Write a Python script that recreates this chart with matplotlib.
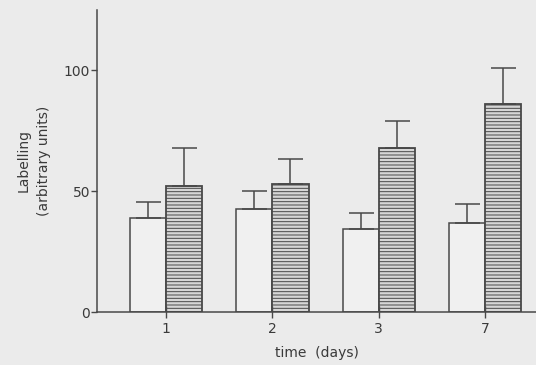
import matplotlib
matplotlib.use("Agg")
import matplotlib.pyplot as plt
import numpy as np

days = ["1", "2", "3", "7"]
control = [39, 42.5, 34.5, 37]
control_err = [6.5, 7.5, 6.5, 7.5]
treated = [52, 53, 68, 86]
treated_err = [16, 10.5, 11, 15]

bg = "#ebebeb"
fig = plt.figure(figsize=(5.36, 3.65), dpi=100, facecolor=bg)
ax = fig.add_axes([0.181, 0.145, 0.819, 0.828], facecolor=bg)

x = np.arange(len(days))
w = 0.34
lc = "#484848"
tc = "#3a3a3a"
ax.bar(x - w / 2, control, w, color="#f0f0f0", edgecolor=lc, linewidth=1.1,
       yerr=[np.zeros(4), control_err], capsize=9,
       error_kw=dict(ecolor=lc, elinewidth=1.1, capthick=1.1))
plt.rcParams['hatch.color'] = "#a8a8a8"
plt.rcParams['hatch.linewidth'] = 0.7
ax.bar(x + w / 2, treated, w, color="#d6d6d6", edgecolor=lc, linewidth=1.3,
       hatch="-----", yerr=[np.zeros(4), treated_err], capsize=9,
       error_kw=dict(ecolor=lc, elinewidth=1.1, capthick=1.1))

ax.set_xlim(-0.65, 3.48)
ax.set_ylim(0, 125)
ax.set_xticks(x)
ax.set_xticklabels(days)
ax.set_yticks([0, 50, 100])
for s in ["top", "right"]:
    ax.spines[s].set_visible(False)
for s in ["left", "bottom"]:
    ax.spines[s].set_color(lc)
    ax.spines[s].set_linewidth(1.1)
ax.tick_params(axis="y", direction="out", length=4, width=1, color=lc,
               labelsize=10, labelcolor=tc, pad=1)
ax.tick_params(axis="x", direction="inout", length=8, width=1, color=lc,
               labelsize=10, labelcolor=tc, pad=3)
ax.set_xlabel("time  (days)", fontsize=10, color=tc, labelpad=7)
ax.set_ylabel("Labelling\n(arbitrary units)", fontsize=10, color=tc,
              labelpad=9, linespacing=1.6)

fig.savefig("out.png", dpi=100, facecolor=bg)
